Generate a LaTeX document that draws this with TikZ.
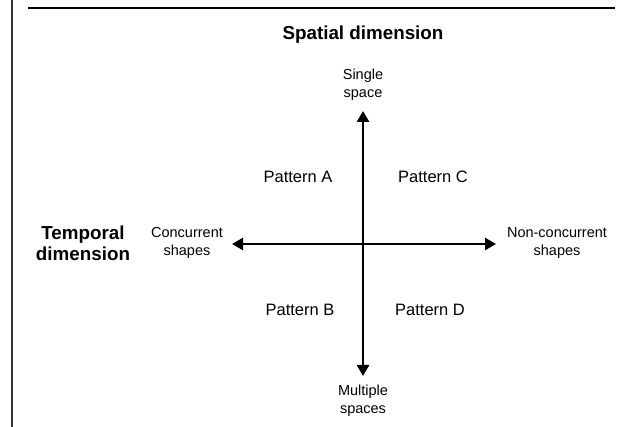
\documentclass[tikz,border=0pt]{standalone}
\usepackage{fontspec}
\setmainfont{Liberation Sans}
\usetikzlibrary{arrows.meta}
\tikzset{
  title/.style={font=\bfseries\fontsize{18.8}{21}\selectfont, align=center, inner sep=0pt},
  tag/.style={font=\fontsize{14.5}{18.5}\selectfont, align=center, inner sep=0pt},
  pat/.style={font=\fontsize{16.5}{19}\selectfont, inner sep=0pt},
  axis/.style={line width=2.6pt, {Triangle[length=11pt,width=12pt]}-{Triangle[length=11pt,width=12pt]}},
}
\begin{document}
\begin{tikzpicture}[x=1pt,y=-1pt]
		\useasboundingbox (0,0) rectangle (629,427);
		\coordinate (LT) at (12,0);
		\coordinate (LB) at (12,427);
		\coordinate (TL) at (28,8);
		\coordinate (TR) at (615,8);
		\draw[line width=1.6pt, black!80] (LT) -- (LB);
		\draw[line width=2pt] (TL) -- (TR);
		
		\node[title] (SD) at (363,35) {Spatial dimension};
		\node[title] (TD) at (83,243) {Temporal\\dimension};
		
		\node[tag] (N) at (363,85) {Single\\space};
		\node[tag] (S) at (363,401) {Multiple\\spaces};
		\node[tag] (W) at (187,243) {Concurrent\\shapes};
		\node[tag] (E) at (557,243) {Non-concurrent\\shapes};
		
		\coordinate (NT) at (363,111);
		\coordinate (ST) at (363,376);
		\coordinate (WT) at (232,244);
		\coordinate (ET) at (496,244);
		\draw[axis] (ST) -- (NT);
		\draw[axis] (WT) -- (ET);
		
		\node[pat] (A) at (298,177) {Pattern A};
		\node[pat] (C) at (433,177) {Pattern C};
		\node[pat] (B) at (300,310) {Pattern B};
		\node[pat] (D) at (430,310) {Pattern D};
\end{tikzpicture}
\end{document}
